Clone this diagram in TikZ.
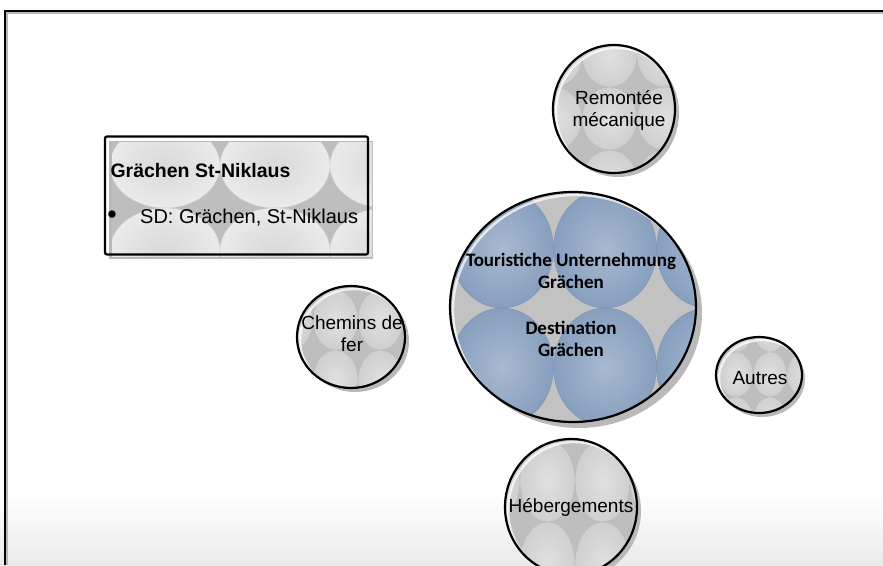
\documentclass[tikz,border=0pt]{standalone}
\usepackage{fontspec}
\setmainfont{Liberation Sans}
\newfontfamily\calib{Carlito}
\usetikzlibrary{shapes.geometric}
\definecolor{gapgray}{HTML}{BEBEBE}
\definecolor{ballin}{HTML}{E0E0E0}
\definecolor{ballout}{HTML}{CFCFCF}
\definecolor{boxin}{HTML}{D9D9D9}
\definecolor{boxout}{HTML}{EAEAEA}
\definecolor{bluein}{HTML}{A8B9D0}
\definecolor{blueout}{HTML}{879FBE}
\definecolor{maingap}{HTML}{C2C2C2}
\definecolor{shadowgray}{HTML}{B9B9B9}
\definecolor{floorgray}{HTML}{EAEAEA}

% grid of shaded ellipses: x0, y0 (grid corner), tile w, h, inner, outer, i list, j list
\newcommand\tilegrid[8]{%
  \foreach \i in {#7}{\foreach \j in {#8}{%
    \shade[inner color=#5, outer color=#6]
      ({#1+(\i+0.5)*#3},{#2+(\j+0.5)*#4}) ellipse [x radius={#3*0.5pt}, y radius={#4*0.5pt}];
    \draw[#6!88!black, line width=0.3pt]
      ({#1+(\i+0.5)*#3},{#2+(\j+0.5)*#4}) ellipse [x radius={#3*0.5pt}, y radius={#4*0.5pt}];
  }}}

% soft white bevel along the upper left inside of a bubble: cx, cy, rx, ry
\newcommand\bevel[4]{%
  \draw[white, opacity=0.75, line width=2.4pt]
    ({#1+3},{#2+3}) ellipse [x radius={#3*1pt}, y radius={#4*1pt}];}

\tikzset{
  rim/.style={draw=black, line width=2.2pt, ellipse, inner sep=0pt},
  balltext/.style={align=center, font=\fontsize{19}{22}\selectfont},
  maintext/.style={align=center, font=\calib\bfseries\fontsize{19}{22.5}\selectfont},
}

\begin{document}
\begin{tikzpicture}[x=1pt,y=-1pt]
\useasboundingbox (0,0) rectangle (883,565);

% floor
\shade[top color=white, bottom color=floorgray] (0,492) rectangle (883,565);

% frame
\draw[shadowgray, line width=1.2pt] (7,565) -- (7,13) -- (883,13);
\draw[line width=1.6pt] (5,565) -- (5,11) -- (883,11);

% ---------- info box ----------
\fill[shadowgray] (109,141) rectangle (373,259);
\begin{scope}
  \clip (112,142) rectangle (372,256);
  \fill[gapgray] (100,130) rectangle (380,260);
  \tilegrid{110}{123}{110}{85}{boxin}{boxout}{-1,0,1,2}{-1,0,1,2}
\end{scope}
\node[draw=black, line width=2.2pt, rounded corners=2pt,
      minimum width=263pt, minimum height=118pt] (box) at (236.5,195.5) {};
\node[anchor=base west, font=\bfseries\fontsize{19.5}{23}\selectfont] (title) at (107,177) {Grächen St-Niklaus};
\node[font=\fontsize{27}{27}\selectfont, inner sep=0pt] (bul) at (112,217) {\textbullet};
\node[anchor=base west, font=\fontsize{20}{23}\selectfont, inner sep=0pt] (item) at (140,223) {SD: Grächen, St-Niklaus};

% ---------- central bubble ----------
\fill[shadowgray] (579,313) ellipse [x radius=123pt, y radius=115pt];
\begin{scope}
  \clip (573,307) ellipse [x radius=123pt, y radius=115pt];
  \fill[maingap] (440,180) rectangle (710,430);
  \tilegrid{450.5}{190}{103}{118}{bluein}{blueout}{-1,0,1,2,3}{-1,0,1,2}
  \bevel{573}{307}{123}{115}
\end{scope}
\node[rim, minimum width=246pt, minimum height=230pt] (core) at (573,307) {};
\node[maintext] (tu) at (571,271) {Touristiche Unternehmung\\Grächen};
\node[maintext] (dg) at (571,339) {Destination\\Grächen};

% ---------- Remontée mécanique ----------
\fill[shadowgray] (618,113) ellipse [x radius=61pt, y radius=64pt];
\begin{scope}
  \clip (614,109) ellipse [x radius=61pt, y radius=64pt];
  \fill[gapgray] (540,40) rectangle (690,180);
  \tilegrid{582}{87}{55}{63}{ballin}{ballout}{-2,-1,0,1,2}{-2,-1,0,1}
  \bevel{614}{109}{61}{64}
\end{scope}
\node[rim, minimum width=122pt, minimum height=128pt] (rm) at (614,109) {};
\node[balltext] (rmt) at (619,110) {Remontée\\mécanique};

% ---------- Chemins de fer ----------
\fill[shadowgray] (355,341) ellipse [x radius=54pt, y radius=51pt];
\begin{scope}
  \clip (351,337) ellipse [x radius=54pt, y radius=51pt];
  \fill[gapgray] (290,280) rectangle (410,395);
  \tilegrid{313}{290}{45}{60}{ballin}{ballout}{-2,-1,0,1,2}{-1,0,1,2}
  \bevel{351}{337}{54}{51}
\end{scope}
\node[rim, minimum width=108pt, minimum height=102pt] (cf) at (351,337) {};
\node[balltext] (cft) at (352,334) {Chemins de\\fer};

% ---------- Autres ----------
\fill[shadowgray] (762,379) ellipse [x radius=43pt, y radius=38pt];
\begin{scope}
  \clip (759,375) ellipse [x radius=43pt, y radius=38pt];
  \fill[gapgray] (710,330) rectangle (810,420);
  \tilegrid{753}{352}{34}{45}{ballin}{ballout}{-2,-1,0,1,2}{-2,-1,0,1}
  \bevel{759}{375}{43}{38}
\end{scope}
\node[rim, minimum width=86pt, minimum height=76pt] (au) at (759,375) {};
\node[balltext] (aut) at (760,378) {Autres};

% ---------- Hébergements ----------
\fill[shadowgray] (575,511) ellipse [x radius=66pt, y radius=68pt];
\begin{scope}
  \clip (571,507) ellipse [x radius=66pt, y radius=68pt];
  \fill[gapgray] (500,435) rectangle (645,580);
  \tilegrid{575}{522}{55}{82}{ballin}{ballout}{-3,-2,-1,0,1,2}{-2,-1,0,1}
  \bevel{571}{507}{66}{68}
\end{scope}
\node[rim, minimum width=132pt, minimum height=136pt] (hb) at (571,507) {};
\node[balltext] (hbt) at (571,507) {Hébergements};

\end{tikzpicture}
\end{document}
